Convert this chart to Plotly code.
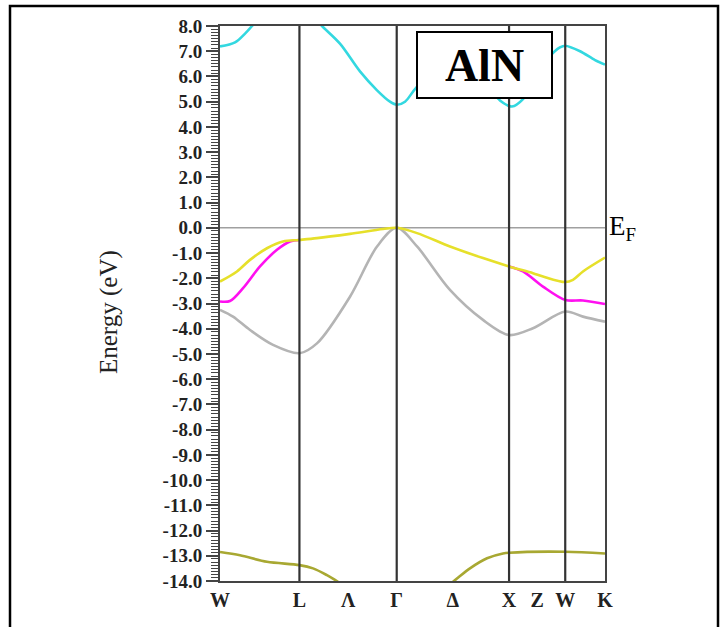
import plotly.graph_objects as go

# ---- high-symmetry path (fcc, path length in 2*pi/a units) ----
HS_LABELS = ["W", "L", "Λ", "Γ", "Δ", "X", "Z", "W", "K"]
HS_POS = [0.0, 0.707, 1.140, 1.573, 2.073, 2.573, 2.823, 3.073, 3.427]
VLINE_POS = [0.707, 1.573, 2.573, 3.073]
FERMI = [0.0]

ENERGY_TICKS = list(range(-14, 9))

# ---- bands (k, E in eV) ----
cyan_k = [0.0, 0.134, 0.223, 0.285, 0.356, 0.534, 0.707, 0.846, 0.908, 1.068, 1.246, 1.398,
          1.513, 1.573, 1.647, 1.745, 1.958, 2.225, 2.403, 2.492, 2.599, 2.697, 2.804, 2.937,
          3.026, 3.073, 3.205, 3.338, 3.427]
cyan_E = [7.19, 7.35, 7.70, 8.00, 8.40, 8.80, 8.90, 8.30, 8.00, 7.30, 6.20, 5.45,
          5.00, 4.88, 5.00, 5.55, 6.40, 6.20, 5.50, 5.05, 4.81, 5.10, 5.90, 6.80,
          7.15, 7.22, 7.00, 6.65, 6.47]

yellow_k = [0.0, 0.151, 0.267, 0.418, 0.561, 0.707, 0.863, 1.157, 1.451, 1.573, 1.754, 2.047,
            2.341, 2.573, 2.786, 2.875, 3.073, 3.142, 3.231, 3.427]
yellow_E = [-2.13, -1.73, -1.27, -0.81, -0.54, -0.48, -0.41, -0.24, -0.05, 0.0, -0.21, -0.74,
            -1.20, -1.53, -1.80, -1.93, -2.15, -2.06, -1.73, -1.18]

magenta_k = [0.0, 0.089, 0.205, 0.356, 0.507, 0.623, 0.707, None,
             2.573, 2.697, 2.875, 3.073, 3.231, 3.427]
magenta_E = [-2.92, -2.90, -2.39, -1.53, -0.87, -0.54, -0.48, None,
             -1.53, -1.73, -2.33, -2.86, -2.88, -3.02]

gray_k = [0.0, 0.116, 0.267, 0.472, 0.707, 0.863, 1.157, 1.398, 1.573, 1.754, 2.047, 2.341,
          2.573, 2.786, 3.073, 3.231, 3.427]
gray_E = [-3.25, -3.52, -4.05, -4.64, -4.97, -4.58, -2.73, -0.74, 0.0, -0.74, -2.46, -3.65,
          -4.25, -3.98, -3.32, -3.52, -3.72]

olive_k = [0.0, 0.178, 0.418, 0.707, 0.828, 0.952, 1.050, 1.246, 1.573, 1.900, 2.074, 2.225,
           2.377, 2.519, 2.573, 3.073, 3.427]
olive_E = [-12.85, -12.98, -13.24, -13.37, -13.50, -13.77, -14.03, -14.60, -15.00, -14.60,
           -14.03, -13.50, -13.10, -12.91, -12.88, -12.84, -12.91]

BANDS = [
    (gray_k, gray_E, "#b4b4b4"),
    (magenta_k, magenta_E, "#ff10f0"),
    (yellow_k, yellow_E, "#e6e02a"),
    (cyan_k, cyan_E, "#33d8e0"),
    (olive_k, olive_E, "#a8a832"),
]

SERIF = "Liberation Serif, Times New Roman, serif"

fig = go.Figure()
for k, e, c in BANDS:
    fig.add_trace(go.Scatter(x=k, y=e, mode="lines", line=dict(color=c, width=2.6, shape="spline", smoothing=0.9),
                             hoverinfo="skip", showlegend=False, connectgaps=False))

W, H = 721, 627
L_M, R_M, T_M, B_M = 220, 116, 26, 46
pw, ph = W - L_M - R_M, H - T_M - B_M

def px(xp):
    return (xp - L_M) / pw

def py(yp):
    return (H - B_M - yp) / ph

shapes = []
# Fermi line
for ef in FERMI:
    shapes.append(dict(type="line", xref="x", yref="y", x0=HS_POS[0], x1=HS_POS[-1], y0=ef, y1=ef,
                       line=dict(color="#a0a0a0", width=1.6), layer="below"))
# high symmetry vertical lines
for v in VLINE_POS:
    shapes.append(dict(type="line", xref="x", yref="paper", x0=v, x1=v, y0=0, y1=1,
                       line=dict(color="#333333", width=2.2)))
# outer frame
shapes.append(dict(type="rect", xref="paper", yref="paper", x0=px(10), x1=px(718), y0=py(640), y1=py(6),
                   line=dict(color="black", width=2.5), fillcolor="rgba(0,0,0,0)"))

annotations = [
    dict(text="<b>AlN</b>", xref="paper", yref="paper", x=px(484.5), y=py(65), showarrow=False,
         font=dict(family=SERIF, size=46, color="black"), bgcolor="white", bordercolor="black",
         borderwidth=2, borderpad=0, width=133, height=64, xanchor="center", yanchor="middle"),
    dict(text="E<sub>F</sub>", xref="paper", yref="y", x=px(607), y=FERMI[0], showarrow=False,
         font=dict(family=SERIF, size=27, color="black"), xanchor="left", yanchor="middle"),
    dict(text="Energy (eV)", xref="paper", yref="paper", x=px(109), y=py(312), showarrow=False,
         textangle=-90, font=dict(family=SERIF, size=25, color="#222"), xanchor="center", yanchor="middle"),
]

fig.update_layout(
    width=W, height=H,
    margin=dict(l=L_M, r=R_M, t=T_M, b=B_M, autoexpand=False),
    paper_bgcolor="white", plot_bgcolor="white",
    shapes=shapes, annotations=annotations, showlegend=False,
    xaxis=dict(range=[HS_POS[0], HS_POS[-1]], tickvals=HS_POS, ticktext=HS_LABELS, ticks="",
               showgrid=False, zeroline=False, showline=True, mirror=True, linecolor="#444", linewidth=2,
               tickfont=dict(family=SERIF, size=20, color="#222", weight="bold")),
    yaxis=dict(range=[-14, 8], tickvals=ENERGY_TICKS, ticktext=[f"{t:.1f}" for t in ENERGY_TICKS],
               ticks="outside", ticklen=12, tickwidth=1.5, tickcolor="#444",
               minor=dict(ticks="outside", ticklen=7, dtick=0.125, tickcolor="#444", tickwidth=1),
               showgrid=False, zeroline=False, showline=True, mirror=True, linecolor="#444", linewidth=2,
               tickfont=dict(family=SERIF, size=19, color="#222", weight="bold")),
)

fig.write_html("out.html", config={"displayModeBar": False},
               post_script="document.body.style.margin='0';document.body.style.padding='0';")
